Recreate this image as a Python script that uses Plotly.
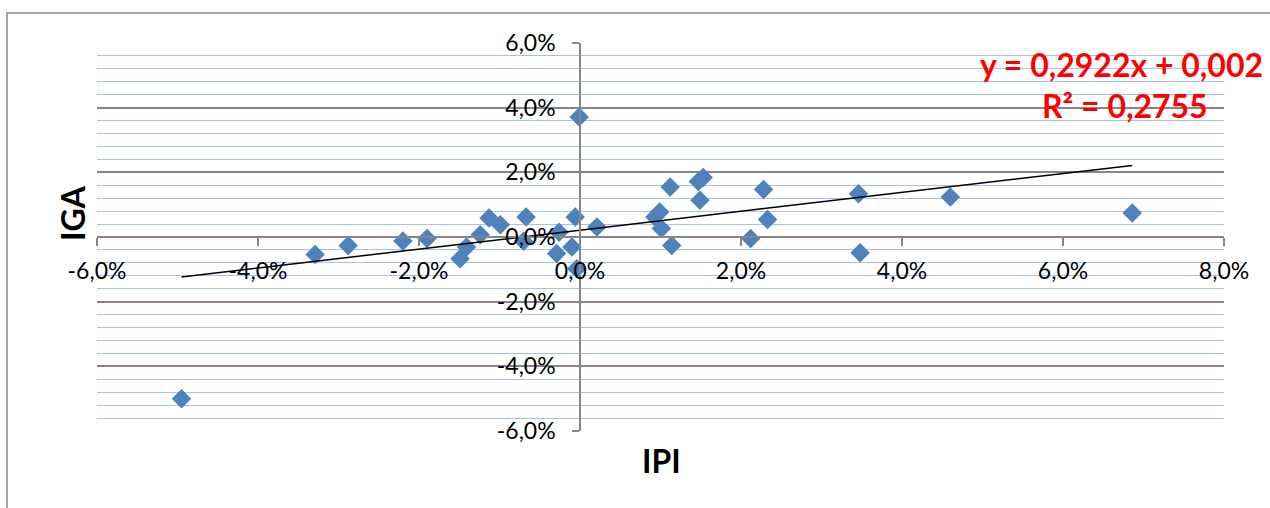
import plotly.graph_objects as go

# IPI (x) and IGA (y) growth rates
ipi = [-0.0495, -0.0329, -0.0288, -0.0220, -0.0190, -0.0149, -0.0141, -0.0124,
       -0.0113, -0.0099, -0.0067, -0.0070, -0.0026, -0.0029, -0.0010, -0.0006,
       -0.0004, -0.0001, 0.0021, 0.0093, 0.0099, 0.0101, 0.0112, 0.0114,
       0.0147, 0.0153, 0.0149, 0.0212, 0.0228, 0.0233, 0.0346, 0.0348,
       0.0460, 0.0686]
iga = [-0.0500, -0.0054, -0.0026, -0.0012, -0.0005, -0.0067, -0.0031, 0.0007,
       0.0059, 0.0038, 0.0062, -0.0013, 0.0015, -0.0051, -0.0031, 0.0062,
       -0.0098, 0.0371, 0.0031, 0.0062, 0.0077, 0.0026, 0.0155, -0.0026,
       0.0172, 0.0184, 0.0114, -0.0005, 0.0147, 0.0054, 0.0134, -0.0049,
       0.0124, 0.0074]

x_ticks = [-0.06, -0.04, -0.02, 0.0, 0.02, 0.04, 0.06, 0.08]
x_tick_labels = ["-6,0%", "-4,0%", "-2,0%", "0,0%", "2,0%", "4,0%", "6,0%", "8,0%"]
y_ticks = [-0.06, -0.04, -0.02, 0.0, 0.02, 0.04, 0.06]
y_tick_labels = ["-6,0%", "-4,0%", "-2,0%", "0,0%", "2,0%", "4,0%", "6,0%"]

trend_slope = 0.2922
trend_intercept = 0.0021
equation_text = "y = 0,2922x + 0,002"
r2_text = "R² = 0,2755"

x_range = [-0.06, 0.08]
y_range = [-0.06, 0.06]

W, H = 1270, 508
L, R, T, B = 97, 46, 43, 77


def px_x(px):
    return (px - L) / (W - L - R)


def px_y(py):
    return (H - B - py) / (H - B - T)


trend_x = [min(ipi), max(ipi)]
trend_y = [trend_slope * v + trend_intercept for v in trend_x]

fig = go.Figure()

fig.add_trace(
    go.Scatter(
        x=ipi,
        y=iga,
        mode="markers",
        marker=dict(symbol="diamond", size=15, color="#4f81bd"),
        showlegend=False,
    )
)
fig.add_trace(
    go.Scatter(
        x=trend_x,
        y=trend_y,
        mode="lines",
        line=dict(color="black", width=1.5),
        showlegend=False,
    )
)

tick_font = dict(family="Lato", size=23, color="black")
title_font = dict(family="Lato", size=32, color="black")
eq_font = dict(family="Lato", size=32, color="#ff0000")

fig.update_xaxes(
    range=x_range,
    tickvals=x_ticks,
    ticktext=x_tick_labels,
    showgrid=False,
    zeroline=False,
    showline=True,
    linecolor="#868686",
    linewidth=1.5,
    ticks="outside",
    ticklen=8,
    tickwidth=1.5,
    tickcolor="#868686",
    ticklabelstandoff=6,
    tickfont=tick_font,
    anchor="free",
    position=(0 - y_range[0]) / (y_range[1] - y_range[0]),
    automargin=False,
)

fig.update_yaxes(
    range=y_range,
    tickvals=y_ticks,
    ticktext=y_tick_labels,
    showgrid=True,
    gridcolor="#868686",
    gridwidth=1.5,
    zeroline=False,
    showline=True,
    linecolor="#868686",
    linewidth=1.5,
    ticks="outside",
    ticklen=7,
    tickwidth=1.5,
    tickcolor="#868686",
    ticklabelstandoff=12,
    tickfont=tick_font,
    minor=dict(dtick=0.004, tick0=0, showgrid=True, gridcolor="#a9c1e6", gridwidth=1.3),
    anchor="free",
    position=(0 - x_range[0]) / (x_range[1] - x_range[0]),
    automargin=False,
)

fig.add_annotation(
    text="<b>IGA</b>", textangle=-90, x=px_x(72), y=px_y(214),
    xref="paper", yref="paper", showarrow=False, font=title_font,
    xanchor="center", yanchor="middle",
)
fig.add_annotation(
    text="<b>IPI</b>", x=px_x(661), y=px_y(460),
    xref="paper", yref="paper", showarrow=False, font=title_font,
    xanchor="center", yanchor="middle",
)
fig.add_annotation(
    text="<b>" + equation_text + "</b>", x=px_x(978), y=px_y(64),
    xref="paper", yref="paper", showarrow=False, font=eq_font,
    xanchor="left", yanchor="middle",
)
fig.add_annotation(
    text="<b>" + r2_text + "</b>", x=px_x(1125), y=px_y(105),
    xref="paper", yref="paper", showarrow=False, font=eq_font,
    xanchor="center", yanchor="middle",
)

# chart-area border (left and top edges visible)
fig.add_shape(
    type="path",
    path="M {} {} L {} {} L {} {}".format(px_x(7), px_y(510), px_x(7), px_y(13), px_x(1272), px_y(13)),
    xref="paper", yref="paper",
    line=dict(color="#868686", width=1.5),
)

fig.update_layout(
    width=W,
    height=H,
    margin=dict(l=L, r=R, t=T, b=B),
    paper_bgcolor="white",
    plot_bgcolor="white",
    font=dict(family="Lato"),
)

fig.write_html(
    "out.html",
    config={"displayModeBar": False},
    post_script="document.body.style.margin = '0';",
)
